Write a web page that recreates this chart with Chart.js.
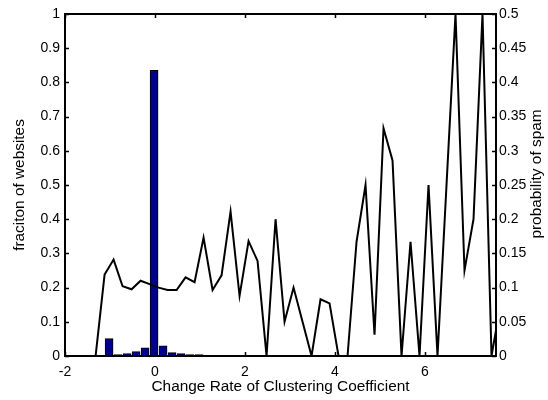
<!DOCTYPE html>
<html>
<head>
<meta charset="utf-8">
<script src="https://cdn.jsdelivr.net/npm/chart.js@4/dist/chart.umd.min.js"></script>
<style>
    html, body { margin: 0; padding: 0; background: #fff; }
    #wrap { width: 548px; height: 400px; }
</style>
</head>
<body>
<div id="wrap"><canvas id="chart" width="548" height="400"></canvas></div>
<script>
// --- data ---
const barX = [-1.02, -0.82, -0.62, -0.42, -0.22, -0.02, 0.18, 0.38, 0.58, 0.78, 0.98];
const barFraction = [0.051, 0.004, 0.007, 0.013, 0.024, 0.835, 0.030, 0.010, 0.007, 0.004, 0.004];

const lineX = [
    -2.12, -1.92, -1.72, -1.52, -1.32, -1.12, -0.92, -0.72, -0.52, -0.32,
    -0.12, 0.08, 0.28, 0.48, 0.68, 0.88, 1.08, 1.28, 1.48, 1.68,
    1.88, 2.08, 2.28, 2.48, 2.68, 2.88, 3.08, 3.28, 3.48, 3.68,
    3.88, 4.08, 4.28, 4.48, 4.68, 4.88, 5.08, 5.28, 5.48, 5.68,
    5.88, 6.08, 6.28, 6.48, 6.68, 6.88, 7.08, 7.28, 7.48, 7.68
];
const spamProb = [
    0, 0, 0, 0, 0, 0.119, 0.141, 0.102, 0.0975, 0.110,
    0.105, 0.100, 0.0965, 0.0965, 0.115, 0.108, 0.173, 0.0965, 0.118, 0.211,
    0.088, 0.168, 0.139, 0, 0.200, 0.050, 0.100, 0.050, 0, 0.083,
    0.077, 0, 0, 0.167, 0.250, 0.031, 0.333, 0.286, 0, 0.167,
    0, 0.250, 0, 0.250, 0.500, 0.125, 0.200, 0.500, 0, 0.075
];

const xTicks = [-2, 0, 2, 4, 6];
const xTickLabels = ['-2', '0', '2', '4', '6'];
const leftTicks = [0, 0.1, 0.2, 0.3, 0.4, 0.5, 0.6, 0.7, 0.8, 0.9, 1];
const leftTickLabels = ['0', '0.1', '0.2', '0.3', '0.4', '0.5', '0.6', '0.7', '0.8', '0.9', '1'];
const rightTicks = [0, 0.05, 0.1, 0.15, 0.2, 0.25, 0.3, 0.35, 0.4, 0.45, 0.5];
const rightTickLabels = ['0', '0.05', '0.1', '0.15', '0.2', '0.25', '0.3', '0.35', '0.4', '0.45', '0.5'];

const FONT = "'Liberation Sans', Arial, Helvetica, sans-serif";
const TICK_SIZE = 14;
const TITLE_SIZE = 15.4;

function fixedTicks(values) {
    return scale => { scale.ticks = values.map(v => ({ value: v })); };
}

// MATLAB-like box with inward tick marks, plus the right-hand label
const boxPlugin = {
    id: 'matlabBox',
    afterDatasetsDraw(chart) {
        const { ctx, chartArea: a, scales } = chart;
        const len = 4;
        ctx.save();
        ctx.strokeStyle = '#000';
        ctx.lineWidth = 1.5;
        ctx.beginPath();
        xTicks.forEach(v => {
            const px = Math.round(scales.x.getPixelForValue(v)) + 0.5;
            ctx.moveTo(px, a.bottom); ctx.lineTo(px, a.bottom - len);
            ctx.moveTo(px, a.top); ctx.lineTo(px, a.top + len);
        });
        leftTicks.forEach(v => {
            const py = Math.round(scales.y.getPixelForValue(v)) + 0.5;
            ctx.moveTo(a.left, py); ctx.lineTo(a.left + len, py);
        });
        rightTicks.forEach(v => {
            const py = Math.round(scales.y2.getPixelForValue(v)) + 0.5;
            ctx.moveTo(a.right, py); ctx.lineTo(a.right - len, py);
        });
        ctx.stroke();
        ctx.lineWidth = 2;
        ctx.strokeRect(a.left, a.top, a.right - a.left, a.bottom - a.top);

        // right axis title reads bottom-to-top like the left one
        ctx.translate(536.5, 174);
        ctx.rotate(-Math.PI / 2);
        ctx.fillStyle = '#000';
        ctx.font = TITLE_SIZE + 'px ' + FONT;
        ctx.textAlign = 'center';
        ctx.textBaseline = 'middle';
        ctx.fillText('probability of spam', 0, 0);
        ctx.restore();
    }
};

new Chart(document.getElementById('chart').getContext('2d'), {
    data: {
        datasets: [
            {
                type: 'line',
                label: 'probability of spam',
                data: lineX.map((x, i) => ({ x: x, y: spamProb[i] })),
                yAxisID: 'y2',
                borderColor: '#000',
                borderWidth: 2,
                pointRadius: 0,
                tension: 0,
                fill: false,
                order: 0
            },
            {
                type: 'bar',
                label: 'fraciton of websites',
                data: barX.map((x, i) => ({ x: x, y: barFraction[i] })),
                yAxisID: 'y',
                backgroundColor: '#00008f',
                borderColor: '#000',
                borderWidth: 1,
                barThickness: 8,
                order: 1
            }
        ]
    },
    options: {
        responsive: false,
        animation: false,
        events: [],
        layout: { padding: { top: 14, left: 0, right: 0, bottom: 0 } },
        plugins: { legend: { display: false }, tooltip: { enabled: false } },
        scales: {
            x: {
                type: 'linear',
                min: -2,
                max: 7.58,
                offset: false,
                afterBuildTicks: fixedTicks(xTicks),
                afterFit: s => { s.height = 44; },
                grid: { display: false, drawTicks: false },
                border: { display: false },
                ticks: {
                    color: '#000',
                    font: { family: FONT, size: TICK_SIZE },
                    padding: 8,
                    maxRotation: 0,
                    callback: (v, i) => xTickLabels[i]
                },
                title: {
                    display: true,
                    text: 'Change Rate of Clustering Coefficient',
                    color: '#000',
                    font: { family: FONT, size: TITLE_SIZE },
                    padding: { top: 0, bottom: 4.5 }
                }
            },
            y: {
                position: 'left',
                min: 0,
                max: 1,
                afterBuildTicks: fixedTicks(leftTicks),
                afterFit: s => { s.width = 65; },
                grid: { display: false, drawTicks: false },
                border: { display: false },
                ticks: {
                    color: '#000',
                    font: { family: FONT, size: TICK_SIZE },
                    padding: 5,
                    callback: (v, i) => leftTickLabels[i]
                },
                title: {
                    display: true,
                    text: 'fraciton of websites',
                    color: '#000',
                    font: { family: FONT, size: TITLE_SIZE },
                    padding: { top: 11, bottom: 0 }
                }
            },
            y2: {
                position: 'right',
                min: 0,
                max: 0.5,
                afterBuildTicks: fixedTicks(rightTicks),
                afterFit: s => { s.width = 52; },
                grid: { display: false, drawTicks: false },
                border: { display: false },
                ticks: {
                    color: '#000',
                    font: { family: FONT, size: TICK_SIZE },
                    padding: 3,
                    callback: (v, i) => rightTickLabels[i]
                }
            }
        }
    },
    plugins: [boxPlugin]
});
</script>
</body>
</html>
